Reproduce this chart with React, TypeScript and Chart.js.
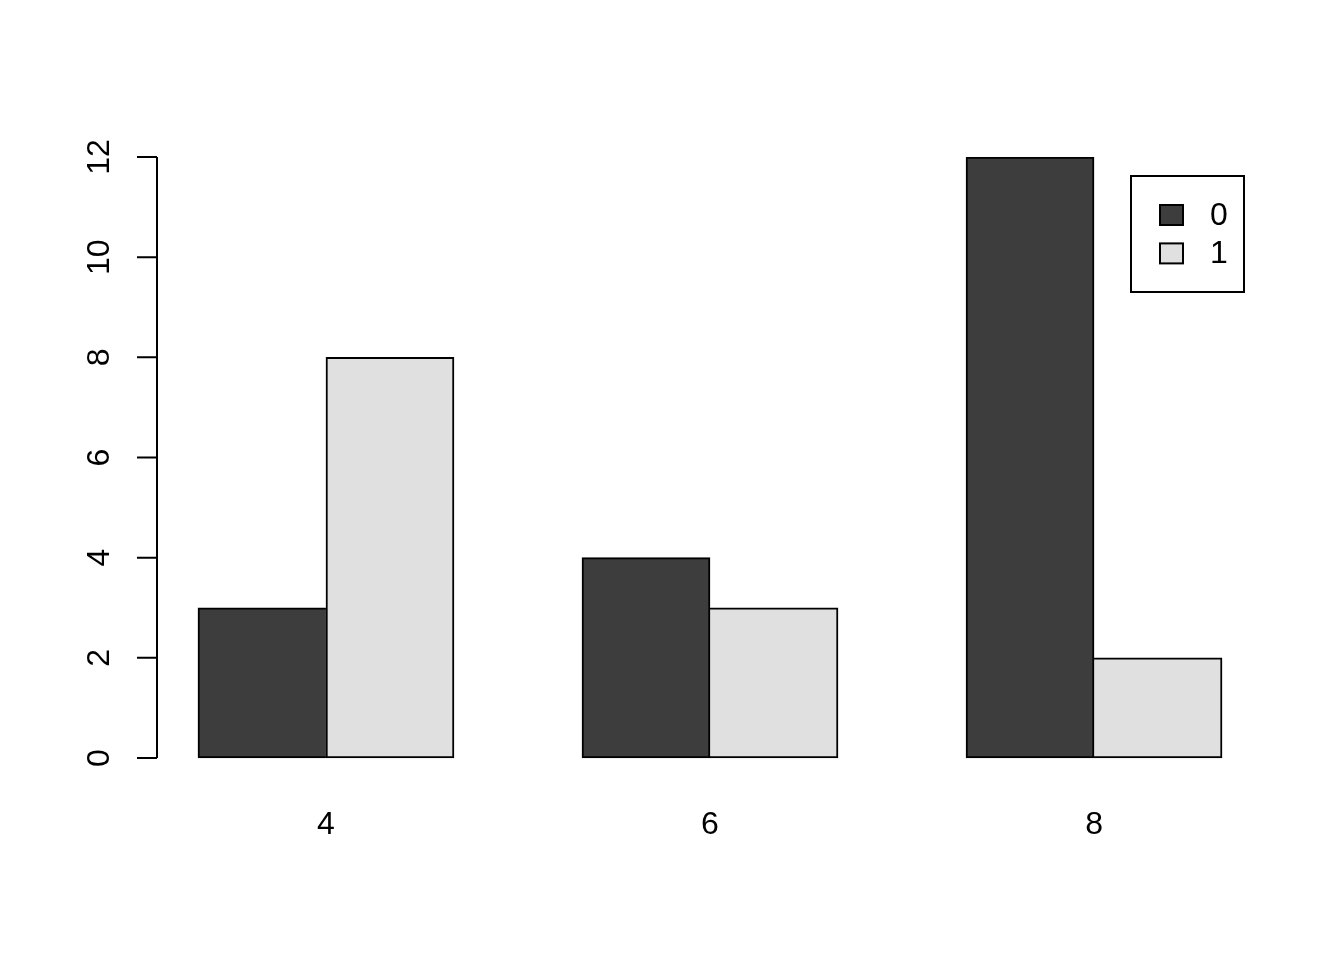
import { useEffect, useRef } from "react";
import { Chart, ChartConfiguration, registerables } from "chart.js";

Chart.register(...registerables);

const categories = ["4", "6", "8"];
const seriesNames = ["0", "1"];
const counts0 = [3, 4, 12];
const counts1 = [8, 3, 2];
const yTicks = [0, 2, 4, 6, 8, 10, 12];

const DARK = "#3d3d3d";
const LIGHT = "#e0e0e0";
const FONT = "Liberation Sans, Arial, Helvetica, sans-serif";

export default function App() {
  const chartRef = useRef<HTMLCanvasElement>(null);
  const chartInstance = useRef<Chart | null>(null);

  useEffect(() => {
    if (!chartRef.current) return;
    document.body.style.margin = "0";

    if (chartInstance.current) {
      chartInstance.current.destroy();
    }

    // R barplot(beside=TRUE) layout: each group has a one-bar gap in front
    const toPoints = (vals: number[], offset: number) =>
      vals.map((v, i) => ({ x: i * 3 + offset, y: v }));

    // shared edge between the two bars of a group: only the taller bar draws it
    const config: ChartConfiguration = {
      type: "bar",
      data: {
        datasets: [
          {
            label: seriesNames[0],
            data: toPoints(counts0, 1.5) as any,
            backgroundColor: DARK,
            borderColor: "#000000",
            borderWidth: 2,
            borderSkipped: ((ctx: any) =>
              counts1[ctx.dataIndex] >= counts0[ctx.dataIndex] ? "right" : false) as any,
            grouped: false,
            categoryPercentage: 1,
            barPercentage: 1,
          },
          {
            label: seriesNames[1],
            data: toPoints(counts1, 2.5) as any,
            backgroundColor: LIGHT,
            borderColor: "#000000",
            borderWidth: 2,
            borderSkipped: ((ctx: any) =>
              counts0[ctx.dataIndex] > counts1[ctx.dataIndex] ? "left" : false) as any,
            grouped: false,
            categoryPercentage: 1,
            barPercentage: 1,
          },
        ],
      },
      options: {
        responsive: true,
        maintainAspectRatio: false,
        animation: false,
        devicePixelRatio: 1,
        layout: {
          padding: { left: 157, right: 81, top: 157, bottom: 0 },
        },
        plugins: {
          legend: { display: false },
          tooltip: { enabled: false },
        },
        scales: {
          x: {
            type: "linear",
            min: 0.68,
            max: 9.32,
            offset: false,
            grid: { display: false },
            border: { display: false },
            afterBuildTicks: (scale: any) => {
              scale.ticks = categories.map((_, i) => ({ value: i * 3 + 2 }));
            },
            afterFit: (scale: any) => {
              scale.height = 196;
            },
            ticks: {
              padding: 34,
              color: "#000000",
              font: { family: FONT, size: 32 },
              callback: (_v: any, index: number) => categories[index],
            },
          },
          y: {
            type: "linear",
            display: false,
            min: -0.12,
            max: 12,
          },
        },
      },
      plugins: [
        {
          id: "rAxisAndLegend",
          afterDraw: (chart: any) => {
            const { ctx, chartArea } = chart;
            const y = chart.scales.y;
            const left = chartArea.left;
            ctx.save();
            ctx.strokeStyle = "#000000";
            ctx.lineWidth = 2;
            ctx.beginPath();
            ctx.moveTo(left, y.getPixelForValue(yTicks[0]));
            ctx.lineTo(left, y.getPixelForValue(yTicks[yTicks.length - 1]));
            yTicks.forEach((t) => {
              const py = y.getPixelForValue(t);
              ctx.moveTo(left - 20, py);
              ctx.lineTo(left, py);
            });
            ctx.stroke();

            ctx.fillStyle = "#000000";
            ctx.font = `32px ${FONT}`;
            ctx.textAlign = "center";
            ctx.textBaseline = "middle";
            yTicks.forEach((t) => {
              const py = y.getPixelForValue(t);
              ctx.save();
              ctx.translate(left - 57, py);
              ctx.rotate(-Math.PI / 2);
              ctx.fillText(String(t), 0, 0);
              ctx.restore();
            });

            // legend box, top right inside the plot region
            const boxR = chartArea.right - 19;
            const boxT = chartArea.top + 19;
            const boxW = 113;
            const boxH = 116;
            ctx.lineWidth = 2;
            ctx.strokeRect(boxR - boxW, boxT, boxW, boxH);
            chart.data.datasets.forEach((ds: any, i: number) => {
              const cy = boxT + 39 + i * 38.4;
              ctx.fillStyle = ds.backgroundColor;
              ctx.fillRect(boxR - boxW + 29, cy - 10, 23, 20);
              ctx.strokeRect(boxR - boxW + 29, cy - 10, 23, 20);
              ctx.fillStyle = "#000000";
              ctx.textAlign = "center";
              ctx.fillText(ds.label, boxR - boxW + 88, cy + 1);
            });
            ctx.restore();
          },
        },
      ],
    };

    chartInstance.current = new Chart(chartRef.current, config);

    return () => {
      if (chartInstance.current) {
        chartInstance.current.destroy();
        chartInstance.current = null;
      }
    };
  }, []);

  return (
    <div style={{ position: "relative", width: 1344, height: 960, background: "#ffffff" }}>
      <canvas ref={chartRef} />
    </div>
  );
}
